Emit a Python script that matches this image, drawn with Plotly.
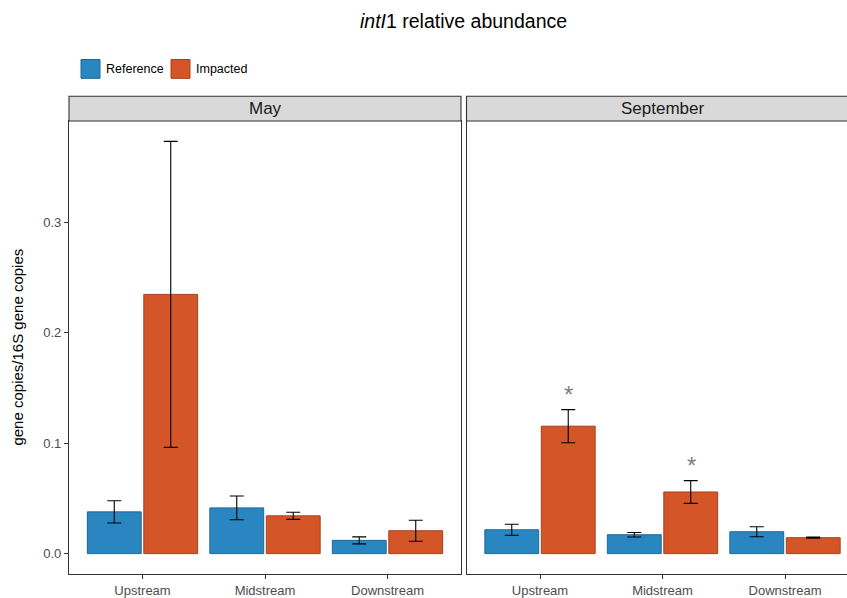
import plotly.graph_objects as go

# Sampling sites (x categories)
sites = ["Upstream", "Midstream", "Downstream"]
months = ["May", "September"]

# Mean intI1 relative abundance (gene copies / 16S gene copies) and standard errors
may_reference = [0.0378, 0.0414, 0.0120]
may_reference_se = [0.0101, 0.0108, 0.0032]
may_impacted = [0.2347, 0.0342, 0.0207]
may_impacted_se = [0.1385, 0.0032, 0.0095]

sep_reference = [0.0216, 0.0171, 0.0198]
sep_reference_se = [0.0050, 0.0020, 0.0045]
sep_impacted = [0.1154, 0.0558, 0.0144]
sep_impacted_se = [0.0150, 0.0103, 0.0005]

# Significance markers for impacted vs reference in September
sep_signif = ["*", "*", ""]

y_ticks = [0.0, 0.1, 0.2, 0.3]

BLUE, BLUE_EDGE = "#2986c0", "#1e6896"
ORANGE, ORANGE_EDGE = "#d45527", "#a8411c"
W, H = 847, 598
FONT = "Liberation Sans, Arial"


def px_x(v):
    return v / W


def px_y(v):
    return 1 - v / H


fig = go.Figure()

panels = [
    ("x", "y", may_reference, may_reference_se, may_impacted, may_impacted_se),
    ("x2", "y2", sep_reference, sep_reference_se, sep_impacted, sep_impacted_se),
]
for xa, ya, ref, ref_se, imp, imp_se in panels:
    for name, vals, se, fill, edge in [
        ("Reference", ref, ref_se, BLUE, BLUE_EDGE),
        ("Impacted", imp, imp_se, ORANGE, ORANGE_EDGE),
    ]:
        fig.add_trace(go.Bar(
            x=sites, y=vals, name=name, xaxis=xa, yaxis=ya, showlegend=False,
            marker=dict(color=fill, line=dict(color=edge, width=1)),
            error_y=dict(type="data", array=se, visible=True,
                         color="black", thickness=1.1, width=7),
        ))

# Panel geometry (pixels)
p1_left, p1_right = 69, 461
p2_left = 466.5
plot_bottom, strip_bottom, strip_top = 579, 122, 97
unit = (p1_right - p1_left) / 3.2
y_range = [-0.0186, 0.3917]

axis_common = dict(
    type="category", showgrid=False, zeroline=False,
    showline=True, linecolor="#333333", linewidth=1.1,
    ticks="outside", ticklen=4, tickcolor="#333333", tickwidth=1.1,
    tickfont=dict(family=FONT, size=13, color="#4d4d4d"),
)
yaxis_common = dict(
    showgrid=False, zeroline=False, range=y_range,
    showline=True, linecolor="#333333", linewidth=1.1,
    ticks="outside", ticklen=4, tickcolor="#333333", tickwidth=1.1,
    tickvals=y_ticks, tickformat=".1f",
    tickfont=dict(family=FONT, size=13, color="#4d4d4d"),
    domain=[px_y(plot_bottom), px_y(strip_bottom)],
)

fig.update_layout(
    width=W, height=H,
    margin=dict(l=0, r=0, t=0, b=0),
    paper_bgcolor="white", plot_bgcolor="white",
    barmode="group", bargap=0.078, bargroupgap=0.046,
    xaxis=dict(axis_common, domain=[px_x(p1_left), px_x(p1_right)],
               range=[-0.6, 2.6], mirror=True, anchor="y"),
    yaxis=dict(yaxis_common, anchor="x", mirror=True),
    xaxis2=dict(axis_common, domain=[px_x(p2_left), 1],
                range=[-0.6, -0.6 + (W - p2_left) / unit], anchor="y2"),
    yaxis2=dict(yaxis_common, anchor="x2", showticklabels=False, ticks=""),
)

# Facet strips
shapes = []
annotations = []
for (x0, x1), label in zip([(p1_left, p1_right), (p2_left, W + 20)], months):
    shapes.append(dict(type="rect", xref="paper", yref="paper",
                       x0=px_x(x0), x1=px_x(x1), y0=px_y(strip_bottom), y1=px_y(strip_top),
                       fillcolor="#d9d9d9", line=dict(color="#333333", width=1.1), layer="above"))
    cx = (p1_left + p1_right) / 2 if label == "May" else p2_left + 1.6 * unit
    annotations.append(dict(text=label, xref="paper", yref="paper",
                            x=px_x(cx), y=px_y((strip_top + strip_bottom) / 2),
                            showarrow=False, xanchor="center", yanchor="middle",
                            font=dict(family=FONT, size=17, color="#1a1a1a")))

# Significance stars above the impacted bars
for site, m, s, sig in zip(sites, sep_impacted, sep_impacted_se, sep_signif):
    if sig:
        annotations.append(dict(text=sig, x=site, y=m + s + 0.02, xref="x2", yref="y2",
                                xshift=unit * 0.2355, yshift=-7,
                                showarrow=False, xanchor="center", yanchor="middle",
                                font=dict(family=FONT, size=24, color="#808080")))

# Legend keys
for (kx, label, fill, edge) in [(81, "Reference", BLUE, BLUE_EDGE), (171, "Impacted", ORANGE, ORANGE_EDGE)]:
    shapes.append(dict(type="rect", xref="paper", yref="paper",
                       x0=px_x(kx), x1=px_x(kx + 19), y0=px_y(79), y1=px_y(60),
                       fillcolor=fill, line=dict(color=edge, width=1)))
    annotations.append(dict(text=label, xref="paper", yref="paper",
                            x=px_x(kx + 23), y=px_y(69.5), showarrow=False,
                            xanchor="left", yanchor="middle",
                            font=dict(family=FONT, size=12.5, color="black")))

# Title and y-axis title
annotations.append(dict(text="<i>intI</i>1 relative abundance", xref="paper", yref="paper",
                        x=px_x(463), y=px_y(21.5), showarrow=False,
                        xanchor="center", yanchor="middle",
                        font=dict(family=FONT, size=19.5, color="black")))
annotations.append(dict(text="gene copies/16S gene copies", xref="paper", yref="paper",
                        x=px_x(18), y=px_y((plot_bottom + strip_bottom) / 2), showarrow=False,
                        textangle=-90, xanchor="center", yanchor="middle",
                        font=dict(family=FONT, size=15, color="black")))

fig.update_layout(shapes=shapes, annotations=annotations)
fig.write_html("out.html")
